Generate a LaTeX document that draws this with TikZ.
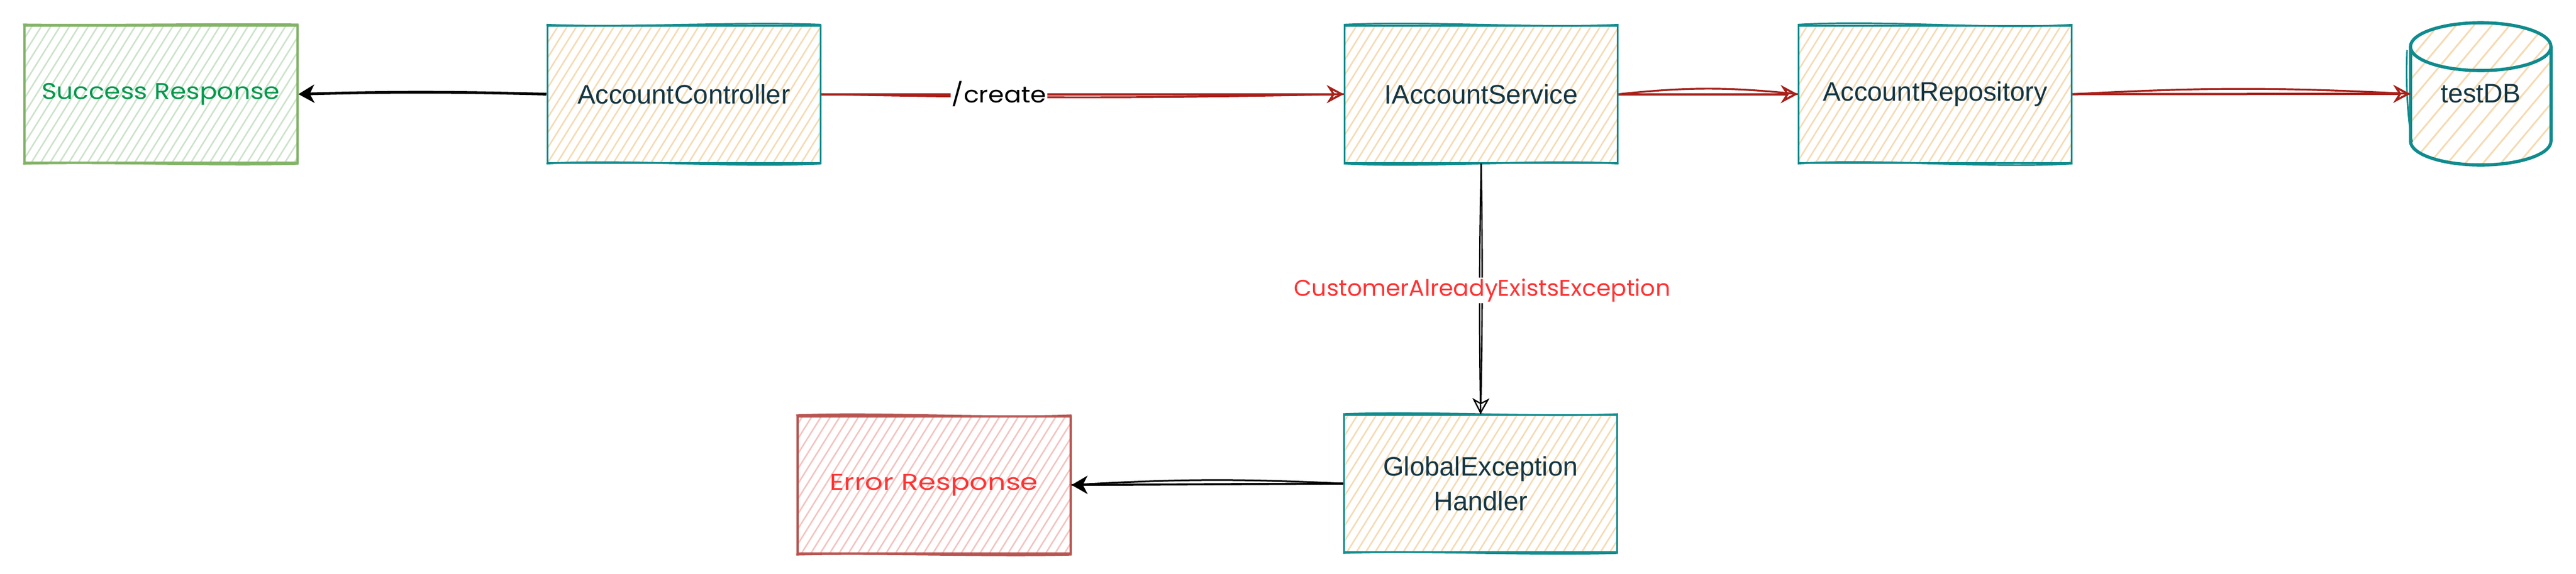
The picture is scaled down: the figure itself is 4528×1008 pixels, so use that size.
\documentclass[tikz,border=0pt]{standalone}
\usepackage{fontspec}
\setmainfont{Liberation Sans}
\newfontfamily\handfont{Poppins}
\usetikzlibrary{arrows.meta,patterns.meta,calc,positioning}
\definecolor{tealS}{HTML}{0F8B8D}
\definecolor{peachF}{HTML}{F6DAB2}
\definecolor{inkT}{HTML}{143642}
\definecolor{redA}{HTML}{A8201A}
\definecolor{greenS}{HTML}{82B366}
\definecolor{greenF}{HTML}{CBE3C9}
\definecolor{greenT}{HTML}{00994D}
\definecolor{redS}{HTML}{B85450}
\definecolor{redF}{HTML}{F5C2C0}
\definecolor{redT}{HTML}{FF3333}
\newcommand\mainfs{\fontsize{23.5pt}{30.5pt}\selectfont}
\newcommand\handfs{\handfont\fontsize{20pt}{24pt}\selectfont}
\newcommand\handtxt[2]{\scalebox{#1}[1]{#2}}
% sketchy extra strokes along the top and bottom edges of a box
\newcommand\sketchedges[4]{%
  \draw[#2,line width=1.6pt]
    (#1.north west) .. controls ($(#1.north west)!0.3!(#1.north east)+(0,#3)$)
    and ($(#1.north west)!0.7!(#1.north east)+(0,-#3)$) .. (#1.north east);
  \draw[#2,line width=1.6pt]
    (#1.south west) .. controls ($(#1.south west)!0.3!(#1.south east)+(0,#4)$)
    and ($(#1.south west)!0.7!(#1.south east)+(0,-#4)$) .. (#1.south east);}
\begin{document}
\begin{tikzpicture}[x=0.5pt,y=-0.5pt,
  box/.style={draw=tealS,line width=1.5pt,
    pattern={Lines[angle=58,distance=7pt,line width=1.3pt]},pattern color=peachF,
    minimum width=240pt,minimum height=120.5pt,inner sep=2pt,align=center,
    text=inkT,font=\mainfs},
  okbox/.style={box,draw=greenS,line width=2pt,pattern color=greenF,text=greenT,font=\handfs},
  errbox/.style={box,draw=redS,line width=2pt,pattern color=redF,text=redT,font=\handfs},
  redarrow/.style={draw=redA,line width=2pt,
    -{Stealth[open,length=15pt,width=16pt,inset=5pt,line width=1.8pt]}},
  redstroke/.style={draw=redA,line width=1.6pt},
  blkarrow/.style={draw=black,line width=2.4pt,
    -{Stealth[length=14pt,width=16pt,inset=4pt]}},
  lbl/.style={fill=white,inner sep=1pt,font=\handfs}]
\fill[white] (0,0) rectangle (4528,1008);
\path[use as bounding box] (0,0) rectangle (4528,1008);

% nodes
\node[okbox] (succ) at (282.5,165.5) {\handtxt{1.136}{Success Response}};
\node[box] (ctrl) at (1202,165.5) {AccountController};
\node[box] (svc) at (2603.5,165.5) {IAccountService};
\node[box] (repo) at (3401.5,165.5) {AccountRepository};
\node[errbox] (err) at (1641.5,852.5) {\handtxt{1.24}{Error Response}};
\node[box] (geh) at (2602.5,850) {GlobalException\\Handler};

% testDB cylinder
\path[pattern={Lines[angle=50,distance=12pt,line width=1.5pt]},pattern color=peachF]
  (4237,82) -- (4237,248) arc[start angle=180,end angle=0,x radius=123.5,y radius=42]
  -- (4484,82) arc[start angle=0,end angle=-180,x radius=123.5,y radius=42] -- cycle;
\draw[tealS,line width=2.8pt,line join=round]
  (4237,82) -- (4237,248) arc[start angle=180,end angle=0,x radius=123.5,y radius=42]
  -- (4484,82) arc[start angle=0,end angle=-180,x radius=123.5,y radius=42] -- cycle;
\draw[tealS,line width=2.8pt]
  (4237,82) arc[start angle=180,end angle=0,x radius=123.5,y radius=42];
\draw[tealS,line width=1.4pt]
  (4231,88) .. controls (4228,160) and (4234,220) .. (4240,250);
\node[inner sep=0pt,minimum width=123.5pt,minimum height=125pt,text=inkT,font=\mainfs]
  (db) at (4360.5,165) {testDB};

% sketchy edges of the boxes
\sketchedges{ctrl}{tealS}{6}{-8}
\sketchedges{svc}{tealS}{-7}{8}
\sketchedges{repo}{tealS}{-9}{-9}
\sketchedges{geh}{tealS}{-6}{-5}
\sketchedges{succ}{greenS}{2}{-4}
\sketchedges{err}{redS}{-6}{-4}

% second (sketch) strokes of the connectors, drawn first
\draw[redstroke] (ctrl.east) to[bend right=1.2] (svc.west);
\draw[redstroke] (svc.east) to[bend left=6] (repo.west);
\draw[redstroke] (repo.east) to[bend left=3] (db.west);
\draw[black,line width=1.2pt] (svc.south) to[bend right=1] (geh.north);
\draw[black,line width=1.5pt] (geh.west) to[bend right=3] (err.east);

% connectors
\draw[blkarrow] (ctrl.west) to[bend right=1.5] (succ.east);
\draw[redarrow] (ctrl.east) -- node[lbl,pos=0.34,text=black] {\handtxt{1.11}{/create}} (svc.west);
\draw[redarrow] (svc.east) -- (repo.west);
\draw[redarrow] (repo.east) -- (db.west);
\draw[draw=black,line width=1.3pt,
  -{Stealth[open,length=14pt,width=15pt,inset=4pt,line width=1.2pt]}]
  (svc.south) to[bend left=1] node[lbl,pos=0.507,text=redT] {\handtxt{1.02}{CustomerAlreadyExistsException}} (geh.north);
\draw[blkarrow,line width=1.8pt] (geh.west) -- (err.east);
\end{tikzpicture}
\end{document}
